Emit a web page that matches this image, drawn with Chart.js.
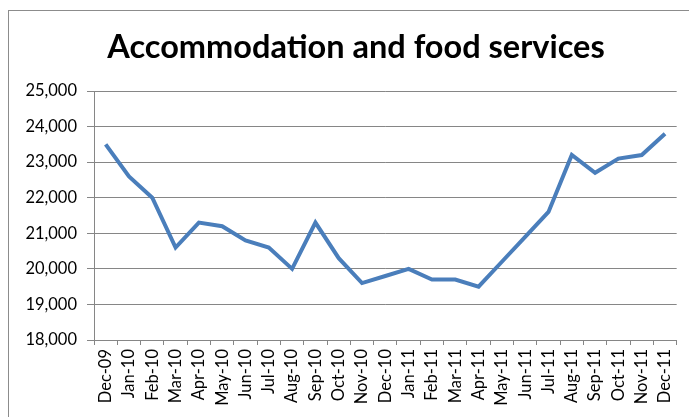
<!DOCTYPE html>
<html>
<head>
<meta charset="utf-8">
<script src="https://cdn.jsdelivr.net/npm/chart.js@4"></script>
<style>
  html, body { margin: 0; padding: 0; background: #fff; overflow: hidden; }
  #wrap { position: relative; width: 689px; height: 417px; }
  #frame { position: absolute; left: 8px; top: 10px; width: 700px; height: 420px; border: 1px solid #8c8c8c; box-sizing: border-box; }
  canvas { position: absolute; left: 0; top: 0; }
</style>
</head>
<body>
<div id="wrap">
  <div id="frame"></div>
  <canvas id="chart" width="689" height="417"></canvas>
</div>
<script>
// ===== Data =====
const months = [
    "Dec-09", "Jan-10", "Feb-10", "Mar-10", "Apr-10", "May-10", "Jun-10", "Jul-10",
    "Aug-10", "Sep-10", "Oct-10", "Nov-10", "Dec-10", "Jan-11", "Feb-11", "Mar-11",
    "Apr-11", "May-11", "Jun-11", "Jul-11", "Aug-11", "Sep-11", "Oct-11", "Nov-11", "Dec-11"
];
const employment = [
    23500, 22600, 22000, 20600, 21300, 21200, 20800, 20600,
    20000, 21300, 20300, 19600, 19800, 20000, 19700, 19700,
    19500, 20200, 20900, 21600, 23200, 22700, 23100, 23200, 23800
];
const yTicks = [18000, 19000, 20000, 21000, 22000, 23000, 24000, 25000];
const chartTitle = "Accommodation and food services";

// shift the title a bit right, the original centres it on its frame
const titleShift = {
    id: 'titleShift',
    afterLayout(chart) {
        if (chart.titleBlock) chart.titleBlock.left += 32;
    }
};

// ===== Chart =====
const ctx = document.getElementById('chart').getContext('2d');
new Chart(ctx, {
    type: 'line',
    data: {
        labels: months,
        datasets: [{
            data: employment,
            borderColor: '#4a7ebb',
            borderWidth: 4,
            pointRadius: 0,
            tension: 0,
            fill: false
        }]
    },
    plugins: [titleShift],
    options: {
        responsive: false,
        animation: false,
        layout: { padding: { left: 0, right: 9, top: 0, bottom: 0 } },
        plugins: {
            legend: { display: false },
            tooltip: { enabled: false },
            title: {
                display: true,
                text: chartTitle,
                color: '#000',
                font: { family: 'Lato', size: 32.5, weight: 'bold' },
                padding: { top: 28, bottom: 24 }
            }
        },
        scales: {
            x: {
                offset: true,
                grid: {
                    offset: true,
                    drawOnChartArea: false,
                    drawTicks: true,
                    tickLength: 5,
                    color: '#868686'
                },
                border: { color: '#868686', width: 1 },
                ticks: {
                    color: '#000',
                    font: { family: 'Lato', size: 16.5 },
                    minRotation: 90,
                    maxRotation: 90,
                    autoSkip: false,
                    padding: 4
                },
                afterFit: s => { s.height = 77; }
            },
            y: {
                min: 18000,
                max: 25000,
                afterBuildTicks: s => { s.ticks = yTicks.map(v => ({ value: v })); },
                grid: {
                    color: '#868686',
                    drawTicks: true,
                    tickLength: 7
                },
                border: { color: '#868686', width: 1 },
                ticks: {
                    color: '#000',
                    font: { family: 'Lato', size: 16.5 },
                    padding: 10,
                    callback: v => v.toLocaleString('en-US')
                },
                afterFit: s => { s.width = 94; }
            }
        }
    }
});
</script>
</body>
</html>
